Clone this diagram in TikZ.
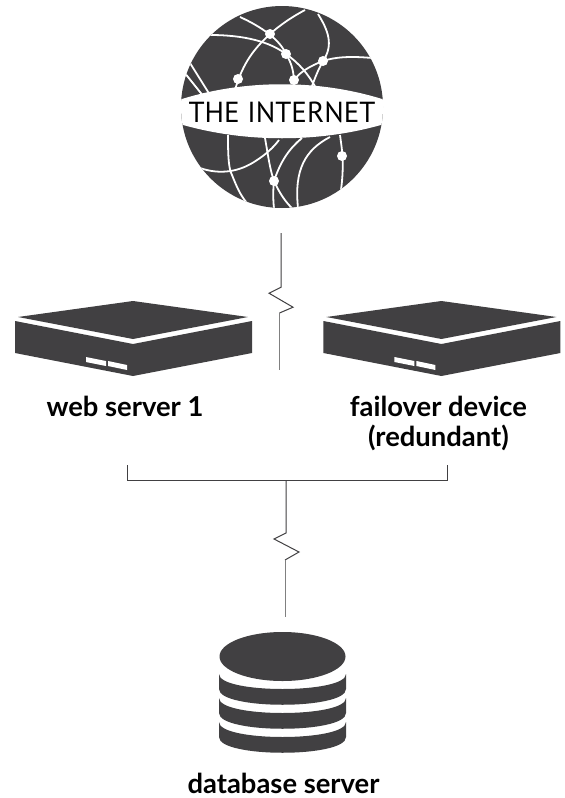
\documentclass[tikz,border=0pt]{standalone}
\usepackage{fontspec}
\setmainfont{Lato}
\newfontfamily\globefont{PT Sans}
\usetikzlibrary{positioning}
\definecolor{icondark}{HTML}{414042}
\definecolor{wirelow}{HTML}{808080}
\tikzstyle{label} = [font=\bfseries\fontsize{27.4}{30}\selectfont, align=center, text=black, inner sep=0pt]
\tikzstyle{globe} = [circle, fill=icondark, minimum size=202pt, inner sep=0pt]
\tikzstyle{iconbox} = [rectangle, inner sep=0pt, minimum width=237pt, minimum height=75pt]
\tikzstyle{wire} = [draw=icondark, line width=1pt]
\tikzstyle{wirefade} = [draw=wirelow, line width=1pt]
\tikzstyle{mesh} = [draw=white, line width=1.8pt]
\tikzstyle{hub} = [circle, fill=white, inner sep=0pt, minimum size=10pt]
\tikzset{
  rackunit/.pic={
    \fill [icondark] (-115,-21) -- (0,-37) -- (115,-21) -- (0,1) -- cycle;
    \fill [icondark] (-118,-17) -- (0,6) -- (119,-17) -- (119,15) -- (0,38) -- (-118,15) -- cycle;
    \fill [white] (-47,19) -- (-27,23) -- (-27,28) -- (-47,24) -- cycle;
    \fill [white] (-25,23) -- (-6,27) -- (-6,32) -- (-25,28) -- cycle;
  }
}

\begin{document}
\begin{tikzpicture}[x=1pt, y=-1pt]
		\useasboundingbox [fill=white] (0,0) rectangle (565,798);
		% Draw nodes
		\node [globe] (internet) at (282,107) {};
		\node [iconbox] (webserver) at (133,338) {};
		\node [iconbox, right=71pt of webserver] (failover) {};
		\node [label, below=20pt of webserver.south, xshift=-8pt] (weblabel) {web server 1};
		\node [label, below=20pt of failover.south, xshift=-3pt] (faillabel) {failover device\\(redundant)};
		\node [inner sep=0pt, minimum width=127pt, minimum height=122pt] (database) at (282.5,693) {};
		\node [label, anchor=center] (dblabel) at (283.5,783) {database server};
		% Globe surface
		\begin{scope}
			\clip (internet) circle (101);
			\draw [mesh] (240,17) .. controls (262,27) and (280,40) .. (286,54) .. controls (292,64) and (294,72) .. (294,84);
			\draw [mesh] (210,35) .. controls (245,35) and (270,42) .. (286,54) .. controls (300,64) and (308,74) .. (316,88);
			\draw [mesh] (305,10) .. controls (290,18) and (279,26) .. (270,34) .. controls (255,48) and (243,62) .. (235,90);
			\draw [mesh] (318,14) .. controls (328,30) and (334,45) .. (323,61) .. controls (318,70) and (315,78) .. (312,86);
			\draw [mesh] (372,58) .. controls (350,56) and (335,57) .. (323,61) .. controls (310,66) and (300,72) .. (294,80);
			\draw [mesh] (190,63) -- (210,95);
			\draw [mesh] (184,72) -- (204,97);
			\draw [mesh] (228,135) .. controls (228,150) and (228,168) .. (232,175) .. controls (236,185) and (240,195) .. (247,203);
			\draw [mesh] (200,168) .. controls (220,175) and (240,172) .. (257,160) .. controls (265,155) and (273,148) .. (279,140);
			\draw [mesh] (265,138) .. controls (268,155) and (270,170) .. (274,181) .. controls (279,192) and (285,202) .. (294,210);
			\draw [mesh] (302,138) .. controls (290,148) and (281,160) .. (274,181) .. controls (273,190) and (273,200) .. (274,208);
			\draw [mesh] (330,137) .. controls (305,150) and (294,170) .. (298,208);
			\draw [mesh] (340,135) .. controls (342,150) and (345,165) .. (340,197);
			% Band across the globe
			\fill [white] (170,103) .. controls (240,78) and (324,78) .. (394,103) -- (394,121) .. controls (324,144) and (240,144) .. (170,121) -- cycle;
		\end{scope}
		\node [hub] (hubnorth) at (270,34) {};
		\node [hub] (hubmid) at (286,54) {};
		\node [hub] (hubeast) at (323,61) {};
		\node [hub] (hubcentre) at (294,80) {};
		\node [hub] (hubwest) at (238,79) {};
		\node [hub] (hubfar) at (342,156) {};
		\node [hub] (hubsouth) at (274,181) {};
		\node [font=\globefont\fontsize{29}{33}\selectfont, inner sep=0pt] (internetlabel) at (282,112) {THE INTERNET};
		% Servers
		\pic at (webserver) {rackunit};
		\pic at (failover) {rackunit};
		% Database
		\fill [icondark] (database.center) ++(0,-36.5) ellipse (63 and 24.5);
		\foreach \top in {674,698,722}
			\fill [icondark] (219,\top) .. controls (219,\top+20) and (346,\top+20) .. (346,\top)
				-- (346,\top+15) .. controls (346,\top+36) and (219,\top+36) .. (219,\top+15) -- cycle;
		% Helper coordinates
		\coordinate [below=25pt of internet, xshift=-1pt] (uptop);
		\coordinate [below=54pt of uptop] (upbreak);
		\coordinate [below left=6pt and 12pt of upbreak] (upleft);
		\coordinate [below right=20pt and 12pt of upbreak] (upright);
		\coordinate (upend) at (279.5,313);
		\coordinate [below=57pt of upend] (upbottom);
		\coordinate (busleft) at (127,465);
		\coordinate (busright) at (447,465);
		\coordinate (buscornerl) at (127,480);
		\coordinate (buscornerr) at (447,480);
		\coordinate (busjoin) at (286,480);
		\coordinate (dropbreak) at (286,533);
		\coordinate (dropleft) at (274,539);
		\coordinate (dropright) at (299,552);
		\coordinate (dropend) at (285,560);
		\coordinate [above=15pt of database] (dropbottom);
		% Draw lines connecting
		\path [wire] (uptop) -- (upbreak) -- (upleft) -- (upright) -- (upend);
		\path [wirefade] (upend) -- (upbottom);
		\path [wire] (busleft) -- (buscornerl) -- (buscornerr) -- (busright);
		\path [wire] (busjoin) -- (dropbreak) -- (dropleft) -- (dropright) -- (dropend);
		\path [wirefade] (dropend) -- (dropend |- dropbottom);
	\end{tikzpicture}
\end{document}
